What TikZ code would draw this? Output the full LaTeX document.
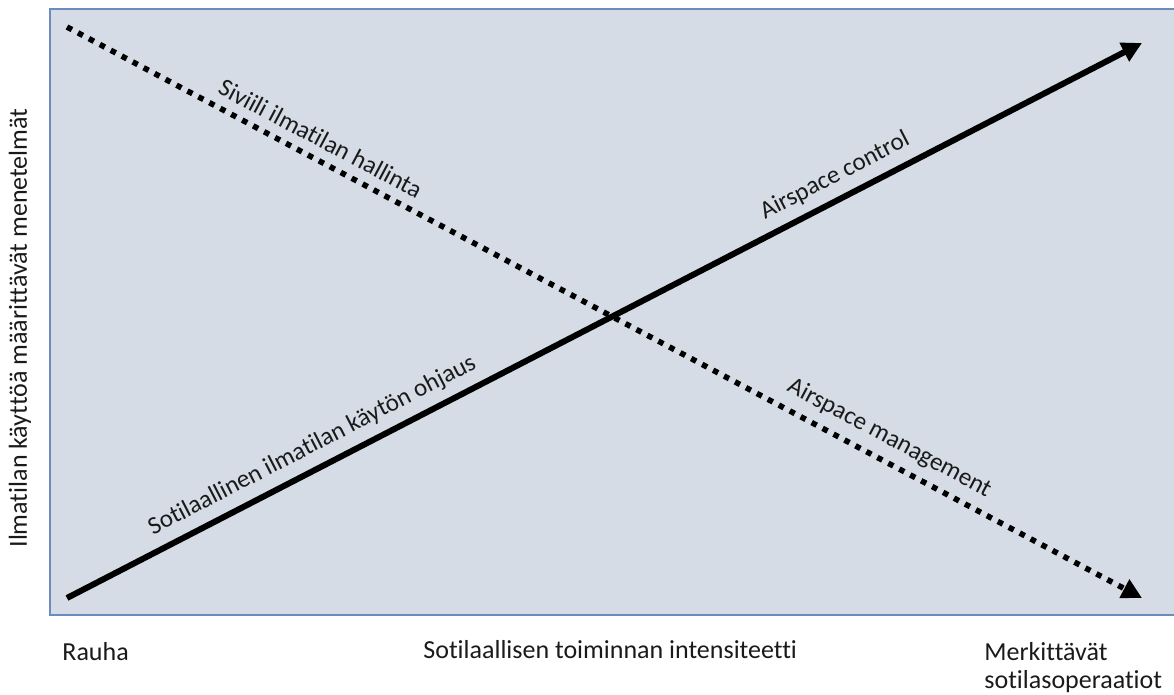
\documentclass[tikz,border=0pt]{standalone}
\usepackage{fontspec}
\setmainfont{Carlito}[Ligatures=NoCommon]
\usetikzlibrary{arrows.meta}
\definecolor{panelfill}{HTML}{D6DCE5}
\definecolor{panelrule}{HTML}{6E8BC0}
\definecolor{labeltext}{HTML}{1A1A1A}
\begin{document}
\begin{tikzpicture}[x=0.5pt,y=-0.5pt,
  every node/.style={font=\fontsize{13}{15}\selectfont, text=labeltext},
  trend/.style={line width=3pt, -{Triangle[length=10pt,width=10pt]}},
  dottrend/.style={line width=2.8pt, dash pattern=on 2.8pt off 3.4pt,
    -{Triangle[length=10pt,width=10pt]}},
  linelabel/.style={sloped, above, inner sep=4.5pt, font=\fontsize{12.5}{15}\selectfont}]
  \useasboundingbox (0,0) rectangle (1174,695);
  % background panel, open on the right
  \fill[panelfill] (50,9) rectangle (1174,615);
  \draw[panelrule, line width=0.9pt] (1174,9) -- (50,9) -- (50,615) -- (1174,615);
  % end points of the two trends
  \coordinate (sstart) at (67,598);
  \coordinate (send) at (1142,43);
  \coordinate (dstart) at (67,27);
  \coordinate (dend) at (1142,598);
  \draw[dottrend] (dstart) --
    node[linelabel, pos=0.227] (civil) {Siviili ilmatilan hallinta}
    node[linelabel, pos=0.755] (mgmt) {Airspace management}
    (dend);
  \draw[trend] (sstart) --
    node[linelabel, pos=0.238] (milctl) {Sotilaallinen ilmatilan käytön ohjaus}
    node[linelabel, pos=0.724] (ctl) {Airspace control}
    (send);
  % axis texts
  \node[rotate=90] (yaxis) at (20,328) {Ilmatilan käyttöä määrittävät menetelmät};
  \node[anchor=base west, inner sep=0pt] (peace) at (62,660) {Rauha};
  \node[anchor=base west, inner sep=0pt] (xaxis) at (423,658) {Sotilaallisen toiminnan intensiteetti};
  \node[anchor=base west, inner sep=0pt] (major1) at (984,660) {Merkittävät};
  \node[anchor=base west, inner sep=0pt] (major2) at (984,688) {sotilasoperaatiot};
\end{tikzpicture}
\end{document}
